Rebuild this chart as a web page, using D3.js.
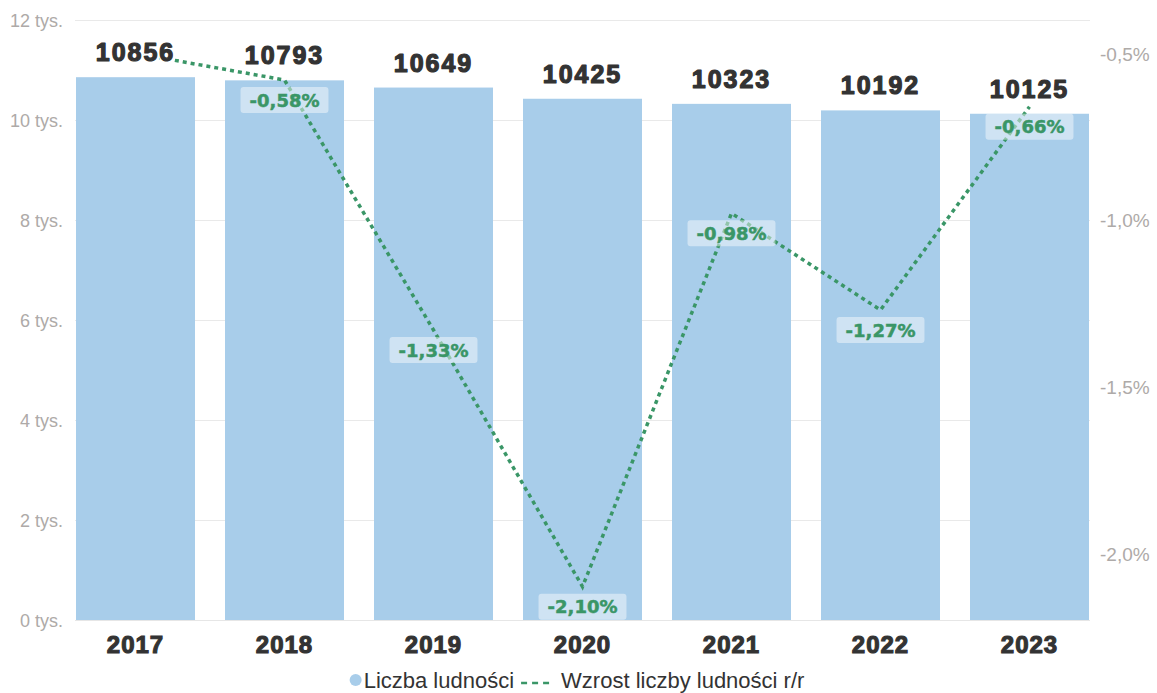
<!DOCTYPE html>
<html>
<head>
<meta charset="utf-8">
<script src="https://cdn.jsdelivr.net/npm/d3@7"></script>
<style>
html,body{margin:0;padding:0;background:#fff;}
svg{display:block;}
</style>
</head>
<body>
<svg id="chart" width="1157" height="693"></svg>
<script>
const years = ["2017","2018","2019","2020","2021","2022","2023"];
const population = [10856,10793,10649,10425,10323,10192,10125];
const growth = [-0.50,-0.58,-1.33,-2.10,-0.98,-1.27,-0.66];
const growthLabelShown = [false,true,true,true,true,true,true];
const leftTicks = [0,2000,4000,6000,8000,10000,12000];
const rightTicks = [-2.0,-1.5,-1.0,-0.5];
const legendNames = ["Liczba ludności","Wzrost liczby ludności r/r"];

const barColor = "#a8cdea";
const lineColor = "#3a9667";
const svg = d3.select("#chart");

const plotLeft = 75, plotRight = 1090, plotTop = 20, plotBottom = 620;

const x = d3.scaleBand().domain(years).range([61,1104]).paddingInner(30/149).paddingOuter(15/149);
const yL = d3.scaleLinear().domain([0,12000]).range([plotBottom,plotTop]);
const yR = d3.scaleLinear().domain([-2.2,-0.4]).range([plotBottom,plotTop]);

// gridlines
const grid = svg.append("g").attr("transform",`translate(${plotLeft},0)`)
  .call(d3.axisLeft(yL).tickValues(leftTicks).tickSize(-(plotRight-plotLeft)).tickFormat(""));
grid.select(".domain").remove();
grid.selectAll("line").attr("stroke","#e9e9e9").attr("stroke-width",1);

// left axis labels
const la = svg.append("g").attr("transform",`translate(${plotLeft},0)`)
  .call(d3.axisLeft(yL).tickValues(leftTicks).tickSize(0).tickPadding(12)
    .tickFormat(d => (d/1000) + " tys."));
la.select(".domain").remove();
la.selectAll("text").attr("font-family","'Liberation Sans',Arial,sans-serif")
  .attr("font-size","18px").attr("fill","#aeaaa8").attr("dy","0.36em");

// right axis labels
const ra = svg.append("g").attr("transform",`translate(${plotRight},0)`)
  .call(d3.axisRight(yR).tickValues(rightTicks).tickSize(0).tickPadding(10)
    .tickFormat(d => d3.format(".1f")(d).replace("−","-").replace(".",",") + "%"));
ra.select(".domain").remove();
ra.selectAll("text").attr("font-family","'Liberation Sans',Arial,sans-serif")
  .attr("font-size","19px").attr("fill","#aeaaa8").attr("dy","0.36em");

// bars
svg.append("g").selectAll("rect").data(years).join("rect")
  .attr("x", d => x(d)).attr("width", x.bandwidth())
  .attr("y", (d,i) => yL(population[i]))
  .attr("height", (d,i) => yL(0) - yL(population[i]))
  .attr("fill", barColor);

// x axis
const xa = svg.append("g").attr("transform",`translate(0,${plotBottom})`)
  .call(d3.axisBottom(x).tickSize(0).tickPadding(10));
xa.select(".domain").attr("d",`M${plotLeft},0.5H${plotRight}`).attr("stroke","#e6e6e6");
xa.selectAll("text").attr("font-family","'Liberation Sans',Arial,sans-serif")
  .attr("font-size","24px").attr("font-weight","bold").attr("fill","#333")
  .attr("stroke","#333").attr("stroke-width",1.1)
  .attr("letter-spacing","1px").attr("dy","0.95em");

// line
const lineGen = d3.line().x((d,i) => x(years[i]) + x.bandwidth()/2).y(d => yR(d));
svg.append("path").datum(growth).attr("d", lineGen)
  .attr("fill","none").attr("stroke",lineColor).attr("stroke-width",3.5)
  .attr("stroke-dasharray","4,4");

// bar labels (white outline underneath, then heavy text)
const labelFont = "'Liberation Sans',Arial,sans-serif";
const bl = svg.append("g");
["outline","fill"].forEach(layer => {
  bl.append("g").selectAll("text").data(years).join("text")
    .attr("x", d => x(d) + x.bandwidth()/2)
    .attr("y", (d,i) => yL(population[i]) - 16)
    .attr("text-anchor","middle")
    .attr("font-family",labelFont)
    .attr("font-size","25px").attr("font-weight","bold")
    .attr("letter-spacing","2px")
    .attr("fill", layer === "outline" ? "#fff" : "#333")
    .attr("stroke", layer === "outline" ? "#fff" : "#333")
    .attr("stroke-width", layer === "outline" ? 4 : 1.2)
    .attr("stroke-linejoin","round")
    .text((d,i) => population[i]);
});

// growth labels
const gl = svg.append("g").selectAll("g").data(years.map((d,i)=>({year:d,v:growth[i],show:growthLabelShown[i]})).filter(d=>d.show)).join("g")
  .attr("transform", d => `translate(${x(d.year)+x.bandwidth()/2},${yR(d.v)+20})`);
gl.append("rect").attr("class","bg");
gl.append("text")
  .attr("text-anchor","middle").attr("y",6.5)
  .attr("font-family","'DejaVu Sans',Verdana,sans-serif")
  .attr("font-size","18px").attr("font-weight","bold")
  .attr("fill",lineColor).attr("stroke",lineColor).attr("stroke-width",0.5)
  .text(d => d3.format(".2f")(d.v).replace("−","-").replace(".",",") + "%");
gl.each(function(){
  const g = d3.select(this);
  const w = g.select("text").node().getComputedTextLength();
  g.select("rect").attr("x",-w/2-9).attr("y",-13).attr("width",w+18).attr("height",26)
    .attr("rx",3).attr("fill","#fff").attr("fill-opacity",0.45);
});

// legend
const leg = svg.append("g");
const legY = 680;
const item1 = leg.append("g");
item1.append("circle").attr("cx",6).attr("cy",0).attr("r",6).attr("fill",barColor);
const t1 = item1.append("text").attr("x",14).attr("y",7.5).text(legendNames[0]);
const item2 = leg.append("g");
item2.append("line").attr("x1",0).attr("x2",31).attr("y1",3).attr("y2",3)
  .attr("stroke",lineColor).attr("stroke-width",2.5).attr("stroke-dasharray","6,5");
const t2 = item2.append("text").attr("x",40).attr("y",7.5).text(legendNames[1]);
leg.selectAll("text").attr("font-family","'Liberation Sans',Arial,sans-serif")
  .attr("font-size","22px").attr("fill","#333");
const w1 = 14 + t1.node().getComputedTextLength();
const w2 = 40 + t2.node().getComputedTextLength();
const gap = 7;
const total = w1 + gap + w2;
const startX = 577 - total/2;
item1.attr("transform",`translate(${startX},${legY})`);
item2.attr("transform",`translate(${startX + w1 + gap},${legY})`);
</script>
</body>
</html>
